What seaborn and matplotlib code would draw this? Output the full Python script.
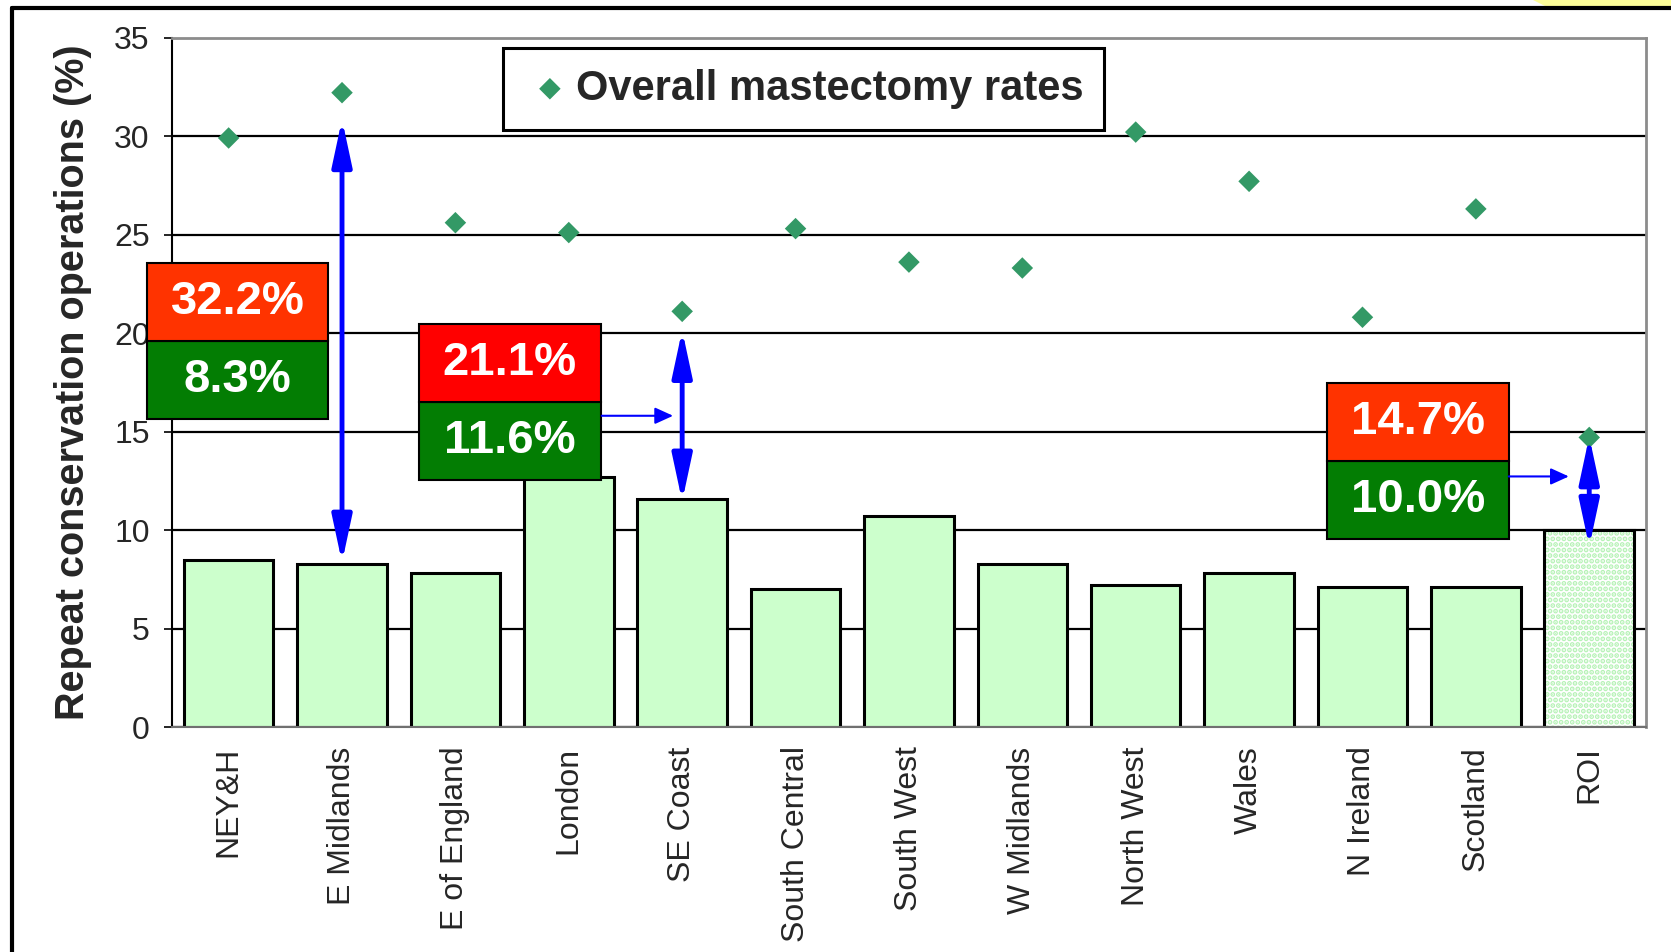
import numpy as np
import pandas as pd
import seaborn as sns
import matplotlib.pyplot as plt
from matplotlib.patches import Rectangle, Polygon
from matplotlib.lines import Line2D

# data
regions = ["NEY&H", "E Midlands", "E of England", "London", "SE Coast",
           "South Central", "South West", "W Midlands", "North West",
           "Wales", "N Ireland", "Scotland", "ROI"]
repeat_ops = [8.5, 8.3, 7.8, 12.7, 11.6, 7.0, 10.7, 8.3, 7.2, 7.8, 7.1, 7.1, 10.0]
mastectomy = [29.9, 32.2, 25.6, 25.1, 21.1, 25.3, 23.6, 23.3, 30.2, 27.7, 20.8, 26.3, 14.7]

# regions picked out with a callout box
callout_idx = [1, 4, 12]

df = pd.DataFrame({"region": regions, "repeat": repeat_ops, "mastectomy": mastectomy})

sns.set_style("white")
plt.rcParams["font.family"] = ["Liberation Sans", "DejaVu Sans"]
plt.rcParams["hatch.linewidth"] = 2.5

fig = plt.figure(figsize=(16.71, 9.52), dpi=100)
ax = fig.add_axes([0.1029, 0.2363, 0.8821, 0.7243])

# bars
sns.barplot(data=df, x="region", y="repeat", color="#CCFFCC", saturation=1,
            edgecolor="black", linewidth=2.2, width=0.79, errorbar=None, ax=ax, zorder=2)

# ROI bar is dotted
roi = ax.containers[0].patches[-1]
roi.set_facecolor("white")
roi.set_edgecolor("#B5F2B5")
roi.set_hatch("...")
roi.set_linewidth(0)
ax.add_patch(Rectangle(roi.get_xy(), roi.get_width(), roi.get_height(),
                       fill=False, edgecolor="black", lw=2.2, zorder=2.1))

# mastectomy points
sns.scatterplot(data=df, x="region", y="mastectomy", marker="D", s=120,
                color="#339966", edgecolor="none", label="Overall mastectomy rates",
                ax=ax, zorder=5)

ax.set_xlim(-0.5, len(regions) - 0.5)
ax.set_ylim(0, 35)
ax.set_yticks(range(0, 36, 5))
ax.set_axisbelow(True)
ax.yaxis.grid(True, color="black", lw=1.6)
ax.get_ygridlines()[-1].set_visible(False)

ax.set_xlabel("")
ax.set_ylabel("Repeat conservation operations (%)", fontsize=28.5,
              fontweight="bold", labelpad=16)

ax.set_xticks(range(len(regions)))
ax.set_xticklabels(regions, rotation=90, fontsize=23)
ax.set_xticks(np.arange(-0.5, len(regions), 1), minor=True)
ax.tick_params(axis="x", which="major", length=0, pad=14)
ax.tick_params(axis="x", which="minor", length=7, width=1.2, color="#707070")
ax.tick_params(axis="y", length=6, width=1.2, color="black", labelsize=23,
               pad=10, left=True)

for side in ["top", "right"]:
    ax.spines[side].set_color("#8c8c8c")
    ax.spines[side].set_linewidth(2)
ax.spines["left"].set_color("black")
ax.spines["left"].set_linewidth(1.5)
ax.spines["bottom"].set_color("#707070")
ax.spines["bottom"].set_linewidth(1.5)

leg = ax.legend(loc="upper left", bbox_to_anchor=(0.2246, 0.985), frameon=True,
                fancybox=False, edgecolor="black", borderpad=0.5,
                handlelength=1.25, handletextpad=0.0, borderaxespad=0,
                prop={"size": 30, "weight": "bold"}, markerscale=1.0)
leg.get_frame().set_linewidth(2.2)
leg.get_frame().set_alpha(1)

# callout boxes: mastectomy (red) over repeat operations (green)
box_left = [-0.72, 1.68, 9.69]
box_bottom = [15.65, 12.55, 9.55]
box_w, box_h = 1.6, 3.95
top_colors = ["#FF3300", "#FF0000", "#FF3300"]
for k, i in enumerate(callout_idx):
    x0, y0 = box_left[k], box_bottom[k]
    ax.add_patch(Rectangle((x0, y0), box_w, box_h, facecolor="#037D03",
                           edgecolor="black", lw=1.5, zorder=6, clip_on=False))
    ax.add_patch(Rectangle((x0, y0 + box_h), box_w, box_h, facecolor=top_colors[k],
                           edgecolor="black", lw=1.5, zorder=6, clip_on=False))
    ax.text(x0 + box_w / 2, y0 + box_h / 2, f"{repeat_ops[i]:.1f}%", ha="center",
            va="center", color="white", fontsize=34, fontweight="bold", zorder=7)
    ax.text(x0 + box_w / 2, y0 + 1.5 * box_h, f"{mastectomy[i]:.1f}%", ha="center",
            va="center", color="white", fontsize=34, fontweight="bold", zorder=7)

# double arrows between bar and point
arrow_ends = [(8.35, 30.85), (11.45, 20.15), (9.15, 14.75)]
for i, (lo, hi) in zip(callout_idx, arrow_ends):
    ax.annotate("", xy=(i, hi), xytext=(i, lo),
                arrowprops=dict(arrowstyle="<|-|>,head_length=1.4,head_width=0.3",
                                mutation_scale=20, color="#0000FF", lw=3.5,
                                shrinkA=0, shrinkB=0), zorder=6)

# thin pointers from boxes to arrows
pointers = [((3.29, 15.8), (3.92, 15.8)), ((11.29, 12.72), (11.82, 12.72))]
for start, end in pointers:
    ax.annotate("", xy=end, xytext=start,
                arrowprops=dict(arrowstyle="-|>,head_length=1.1,head_width=0.5",
                                mutation_scale=10, color="#0000FF", lw=1.5,
                                shrinkA=0, shrinkB=0), zorder=6)

# slide frame
fig.add_artist(Line2D([12 / 1671, 12 / 1671], [0, 1 - 8 / 952],
                      transform=fig.transFigure, color="black", lw=3))
fig.add_artist(Line2D([12 / 1671, 1], [1 - 8 / 952, 1 - 8 / 952],
                      transform=fig.transFigure, color="black", lw=3))
fig.add_artist(Polygon([(1533 / 1671, 1), (1, 1), (1, 1 - 6 / 952), (1545 / 1671, 1 - 6 / 952)],
                       closed=True, transform=fig.transFigure, facecolor="#FFFF99",
                       edgecolor="none"))

fig.savefig("out.png", dpi=100)
